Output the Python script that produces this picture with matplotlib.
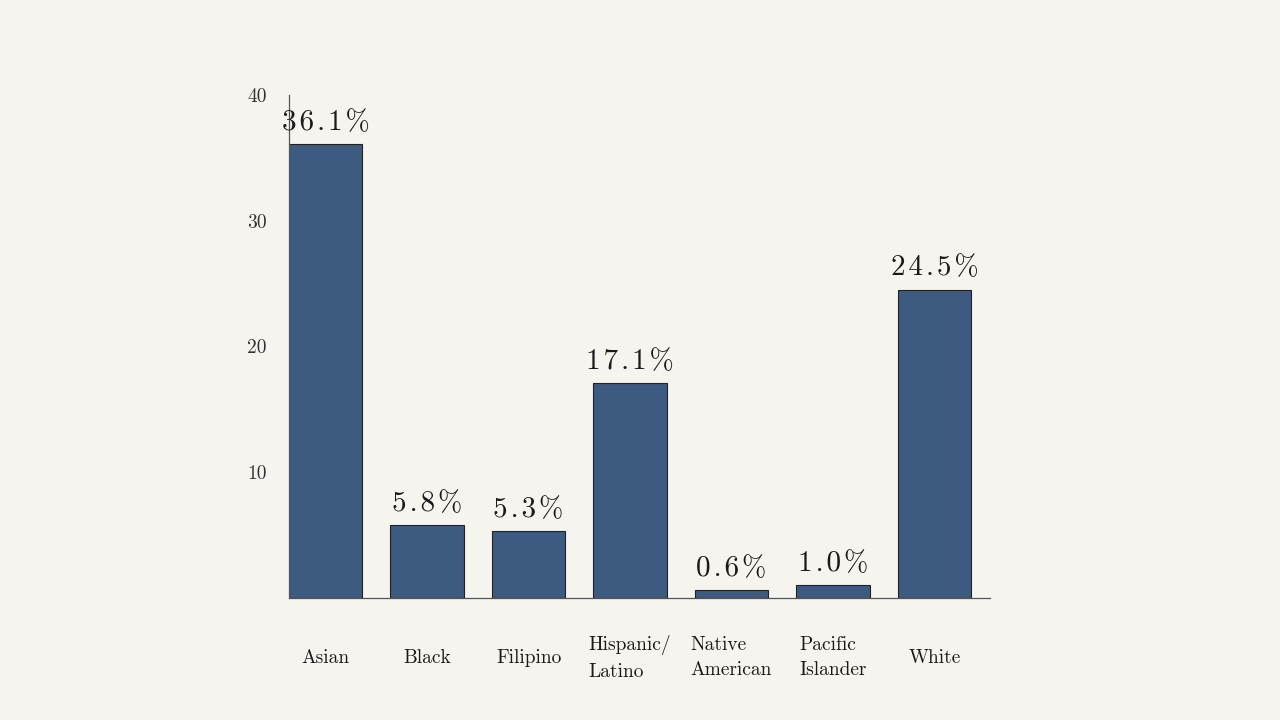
import matplotlib
matplotlib.use("Agg")
import matplotlib.pyplot as plt

categories = ["Asian", "Black", "Filipino", "Hispanic/\nLatino", "Native\nAmerican",
              "Pacific\nIslander", "White"]
shares = [36.1, 5.8, 5.3, 17.1, 0.6, 1.0, 24.5]
yticks = [10, 20, 30, 40]

bg = "#f5f4ee"
bar_color = "#3d5a80"

plt.rcParams["font.family"] = ["cmr10", "DejaVu Serif"]
plt.rcParams["axes.formatter.use_mathtext"] = True


def spaced(s):
    # the reference text is set with loose tracking
    return "\u200a".join(s)


fig = plt.figure(figsize=(12.8, 7.2), dpi=100, facecolor=bg)
ax = fig.add_axes([289 / 1280, 1 - 598 / 720, (990 - 289) / 1280, (598 - 95) / 720])
ax.set_facecolor(bg)

x = list(range(len(categories)))
ax.bar(x, shares, width=0.72, color=bar_color, edgecolor="#222222", linewidth=0.8)
for xi, v in zip(x, shares):
    ax.annotate(spaced(f"{v:.1f}%"), (xi, v), xytext=(0, 6), textcoords="offset points",
                ha="center", va="bottom", fontsize=21, color="#1a1a1a")

ax.set_xlim(-0.36, 6.547)
ax.set_ylim(0, 40)
ax.set_yticks(yticks)
ax.set_yticklabels([str(t) for t in yticks], fontsize=14, color="#333333")
ax.set_xticks(x)
ax.set_xticklabels(categories, fontsize=14, color="#1a1a1a",
                   multialignment="left", linespacing=1.55)
ax.tick_params(axis="both", length=0)
ax.tick_params(axis="x", pad=43)
ax.tick_params(axis="y", pad=16)
for side in ("top", "right"):
    ax.spines[side].set_visible(False)
for side in ("left", "bottom"):
    ax.spines[side].set_color("#555555")
    ax.spines[side].set_linewidth(0.9)

for lbl in ax.get_xticklabels():
    lbl.set_verticalalignment("center")

fig.savefig("out.png", dpi=100, facecolor=bg)
